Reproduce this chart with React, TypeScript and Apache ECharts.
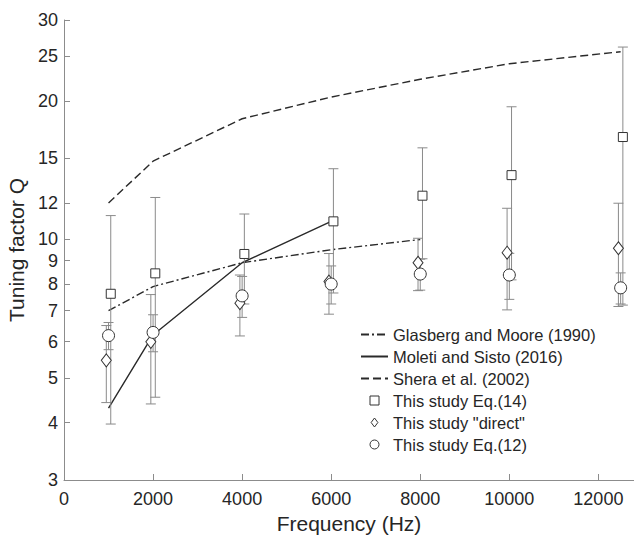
import React, { useEffect, useRef } from "react";
import * as echarts from "echarts";

const freqs = [1000, 2000, 4000, 6000, 8000, 10000, 12500];
const eq14Mean = [7.62, 8.44, 9.3, 10.95, 12.45, 13.8, 16.7];
const eq14Sd = [3.65, 3.9, 2.06, 3.3, 3.37, 5.63, 9.5];
const directMean = [5.46, 5.99, 7.27, 8.1, 8.9, 9.36, 9.57];
const directSd = [1.04, 1.6, 1.1, 1.22, 1.16, 2.33, 2.42];
const eq12Mean = [6.18, 6.28, 7.54, 8.0, 8.41, 8.37, 7.85];
const eq12Sd = [0.42, 0.58, 0.77, 0.76, 0.65, 0.96, 0.61];

const gmFreq = [1000, 2000, 4000, 6000, 8000];
const gmQ = [7.0, 7.9, 8.9, 9.5, 10.0];
const moletiFreq = [1000, 2000, 4000, 6000];
const moletiQ = [4.3, 6.2, 8.9, 10.95];
const sheraFreq = [1000, 2000, 4000, 6000, 8000, 10000, 12500];
const sheraQ = [12.0, 14.8, 18.3, 20.4, 22.3, 24.1, 25.6];

const yTicks = [3, 4, 5, 6, 7, 8, 9, 10, 12, 15, 20, 25, 30];

const FONT = "'Liberation Sans', Arial, sans-serif";
const LINE_COLOR = "#2a2a2a";
const BAR_COLOR = "#8a8a8a";
const AXIS_COLOR = "#8c8c8c";

const SQUARE_ICON = "path://M0,0L10,0L10,10L0,10Z";
const DIAMOND_ICON = "path://M4.5,0L9,6L4.5,12L0,6Z";
const CIRCLE_ICON = "path://M5,0A5,5,0,1,1,5,10A5,5,0,1,1,5,0Z";

function errData(means: number[], sds: number[], offset: number) {
  return freqs.map((f, i) => [f + offset, means[i] - sds[i], means[i] + sds[i]]);
}
function ptData(means: number[], offset: number) {
  return freqs.map((f, i) => [f + offset, means[i]]);
}

function errSeries(name: string, data: number[][]) {
  return {
    name,
    type: "custom",
    data,
    encode: { x: 0, y: [1, 2] },
    z: 3,
    renderItem: (params: any, api: any) => {
      const x = api.value(0);
      const lo = api.coord([x, api.value(1)]);
      const hi = api.coord([x, api.value(2)]);
      const w = 5;
      const st = { stroke: BAR_COLOR, lineWidth: 1, fill: "none" };
      return {
        type: "group",
        children: [
          { type: "line", shape: { x1: lo[0], y1: lo[1], x2: hi[0], y2: hi[1] }, style: st },
          { type: "line", shape: { x1: lo[0] - w, y1: lo[1], x2: lo[0] + w, y2: lo[1] }, style: st },
          { type: "line", shape: { x1: hi[0] - w, y1: hi[1], x2: hi[0] + w, y2: hi[1] }, style: st },
        ],
      };
    },
  };
}

function markerSeries(name: string, data: number[][], symbol: string, size: any) {
  return {
    name,
    type: "scatter",
    data,
    symbol,
    symbolSize: size,
    z: 5,
    itemStyle: { color: "#ffffff", borderColor: "#333333", borderWidth: 1, opacity: 1 },
  };
}

function lineSeries(name: string, xs: number[], ys: number[], type: any) {
  return {
    name,
    type: "line",
    data: xs.map((x, i) => [x, ys[i]]),
    symbol: "none",
    showSymbol: false,
    z: 2,
    lineStyle: { color: LINE_COLOR, width: 1.4, type },
    itemStyle: { color: LINE_COLOR },
  };
}

const hiddenSymbol = { opacity: 0, color: "rgba(0,0,0,0)", borderWidth: 0 };
const markerLegendStyle = { color: "#ffffff", borderColor: "#333333", borderWidth: 1 };

export default function App() {
  const ref = useRef<HTMLDivElement>(null);
  useEffect(() => {
    if (!ref.current) return;
    const chart = echarts.init(ref.current, null, { renderer: "svg" });
    const option: any = {
      animation: false,
      backgroundColor: "#ffffff",
      textStyle: { fontFamily: FONT },
      grid: {
        left: 64,
        right: 0,
        top: 20,
        bottom: 56,
        containLabel: false,
        outerBoundsMode: "none",
      },
      xAxis: {
        type: "value",
        min: 0,
        max: 12800,
        interval: 2000,
        name: "Frequency (Hz)",
        nameLocation: "middle",
        nameGap: 30,
        nameTextStyle: { fontSize: 21, color: "#262626", fontFamily: FONT },
        axisLine: { show: true, lineStyle: { color: AXIS_COLOR, width: 1 } },
        axisTick: { show: true, inside: true, length: 6, lineStyle: { color: AXIS_COLOR } },
        axisLabel: {
          fontSize: 18,
          color: "#262626",
          margin: 10,
          showMaxLabel: false,
          fontFamily: FONT,
          formatter: (v: number) => String(v),
        },
        splitLine: { show: false },
      },
      yAxis: {
        type: "log",
        logBase: 10,
        min: 3,
        max: 30,
        name: "Tuning factor Q",
        nameLocation: "middle",
        nameGap: 31,
        nameTextStyle: { fontSize: 21, color: "#262626", fontFamily: FONT },
        axisLine: { show: true, lineStyle: { color: AXIS_COLOR, width: 1 } },
        axisTick: {
          show: true,
          inside: true,
          length: 6,
          lineStyle: { color: AXIS_COLOR },
          customValues: yTicks,
        },
        axisLabel: {
          fontSize: 18,
          color: "#262626",
          margin: 6,
          fontFamily: FONT,
          customValues: yTicks,
          formatter: (v: number) => String(Math.round(v)),
        },
        splitLine: { show: false },
        minorTick: { show: false },
      },
      legend: {
        left: 355,
        top: 321,
        orient: "vertical",
        itemWidth: 27,
        itemHeight: 9,
        itemGap: 5,
        symbolKeepAspect: true,
        textStyle: { fontSize: 16.5, color: "#262626", fontFamily: FONT, lineHeight: 16 },
        data: [
          { name: "Glasberg and Moore (1990)", itemStyle: hiddenSymbol },
          { name: "Moleti and Sisto (2016)", itemStyle: hiddenSymbol },
          { name: "Shera et al. (2002)", itemStyle: hiddenSymbol },
          { name: "This study Eq.(14)", icon: SQUARE_ICON, itemStyle: markerLegendStyle },
          { name: 'This study "direct"', icon: DIAMOND_ICON, itemStyle: markerLegendStyle },
          { name: "This study Eq.(12)", icon: CIRCLE_ICON, itemStyle: markerLegendStyle },
        ],
      },
      series: [
        lineSeries("Glasberg and Moore (1990)", gmFreq, gmQ, [8, 3, 2, 3]),
        lineSeries("Moleti and Sisto (2016)", moletiFreq, moletiQ, "solid"),
        lineSeries("Shera et al. (2002)", sheraFreq, sheraQ, [8, 4]),
        errSeries("err14", errData(eq14Mean, eq14Sd, 50)),
        errSeries("errDirect", errData(directMean, directSd, -50)),
        errSeries("err12", errData(eq12Mean, eq12Sd, 0)),
        markerSeries("This study Eq.(14)", ptData(eq14Mean, 50), "rect", 9),
        markerSeries('This study "direct"', ptData(directMean, -50), "diamond", [10, 13]),
        markerSeries("This study Eq.(12)", ptData(eq12Mean, 0), "circle", 12),
      ],
    };
    chart.setOption(option);
    return () => chart.dispose();
  }, []);
  return (
    <div
      ref={ref}
      style={{ position: "fixed", left: 0, top: 0, width: 634, height: 536 }}
    />
  );
}
